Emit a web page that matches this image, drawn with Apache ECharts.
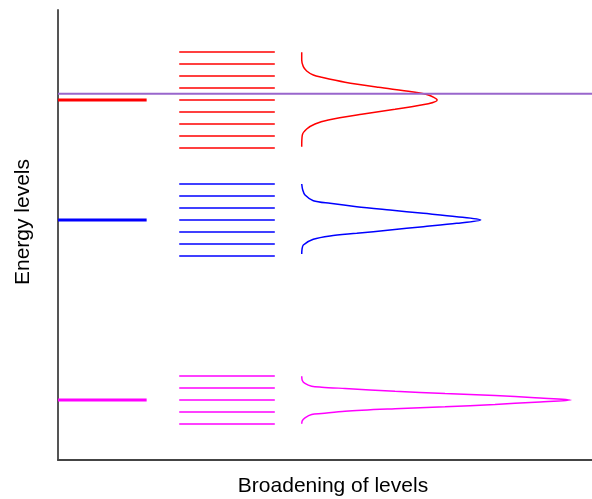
<!DOCTYPE html>
<html>
<head>
<meta charset="utf-8">
<script src="https://cdn.jsdelivr.net/npm/echarts@6/dist/echarts.min.js"></script>
<style>html,body{margin:0;padding:0;background:#fff}#c{width:592px;height:499px}</style>
</head>
<body>
<div id="c"></div>
<script>
// ---- data ----
const levelNames = ['upper', 'middle', 'lower'];
const levelColors = ['#ff0000', '#0000ff', '#ff00ff'];
const levelEnergies = [30, 20, 5];
const mainLineX = [0, 16.6];
const subLineX = [22.7, 40.6];
const upperSubLevels = [26, 27, 28, 29, 30, 31, 32, 33, 34];
const middleSubLevels = [17, 18, 19, 20, 21, 22, 23];
const lowerSubLevels = [3, 4, 5, 6, 7];
const upperCurveE = [33.98, 33.33, 32.78, 32.42, 32.08, 31.89, 31.48, 31.06, 30.69, 30.42, 30.0, 29.69, 29.23, 28.81, 28.33, 28.0, 27.58, 27.08, 26.11];
const upperCurveX = [45.64, 45.64, 45.94, 46.57, 47.81, 49.38, 53.75, 59.98, 66.24, 69.35, 71.0, 69.35, 63.11, 56.87, 50.62, 48.13, 46.57, 45.75, 45.64];
const middleCurveE = [23.0, 22.5, 22.08, 21.61, 21.39, 21.11, 20.83, 20.56, 20.28, 20.0, 19.72, 19.44, 19.17, 18.89, 18.67, 18.39, 17.92, 17.58, 17.17];
const middleCurveX = [45.64, 45.83, 46.26, 47.81, 50.94, 55.94, 62.17, 68.41, 74.66, 79.16, 74.66, 68.41, 62.17, 55.94, 50.94, 47.81, 45.94, 45.7, 45.64];
const lowerCurveE = [6.98, 6.63, 6.38, 6.15, 6.07, 5.96, 5.73, 5.54, 5.375, 5.18, 5.0, 4.82, 4.625, 4.43, 4.27, 4.07, 3.875, 3.79, 3.52, 3.29, 3.02];
const lowerCurveX = [45.64, 45.75, 46.25, 47.5, 49.38, 53.75, 63.11, 72.47, 81.84, 89.33, 96.07, 89.33, 81.84, 72.47, 63.11, 53.75, 49.38, 47.5, 46.25, 45.75, 45.64];
const referenceEnergy = 30.52;
const referenceX = [0, 100];
const xTitle = 'Broadening of levels';
const yTitle = 'Energy levels';

// ---- build ----
const subLevels = [upperSubLevels, middleSubLevels, lowerSubLevels];
const curvesE = [upperCurveE, middleCurveE, lowerCurveE];
const curvesX = [upperCurveX, middleCurveX, lowerCurveX];
const series = [];
function seg(name, x0, x1, e, color, width) {
  return {
    name: name, type: 'line', showSymbol: false, silent: true,
    lineStyle: { color: color, width: width }, itemStyle: { color: color },
    data: [[x0, e], [x1, e]]
  };
}
levelNames.forEach((n, i) => {
  series.push(seg(n + '-main', mainLineX[0], mainLineX[1], levelEnergies[i], levelColors[i], 3));
  subLevels[i].forEach((e, k) => series.push(seg(n + '-sub' + k, subLineX[0], subLineX[1], e, levelColors[i], 1.5)));
  series.push({
    name: n + '-curve', type: 'line', showSymbol: false, smooth: 0.3, silent: true,
    lineStyle: { color: levelColors[i], width: 1.5 }, itemStyle: { color: levelColors[i] },
    data: curvesE[i].map((e, k) => [curvesX[i][k], e])
  });
});
series.push(seg('reference', referenceX[0], referenceX[1], referenceEnergy, '#9966cc', 2));

const chart = echarts.init(document.getElementById('c'), null, { renderer: 'canvas' });
chart.setOption({
  animation: false,
  backgroundColor: '#ffffff',
  grid: { left: 58, right: 0, top: 10, bottom: 39 },
  xAxis: { type: 'value', min: 0, max: 100, axisLine: { show: true, lineStyle: { color: '#444', width: 2 } },
    axisTick: { show: false }, axisLabel: { show: false }, splitLine: { show: false } },
  yAxis: { type: 'value', min: 0, max: 37.5, axisLine: { show: true, lineStyle: { color: '#555', width: 2 } },
    axisTick: { show: false }, axisLabel: { show: false }, splitLine: { show: false } },
  graphic: [
    { type: 'text', style: { text: xTitle, font: '21px "Liberation Sans", Arial, sans-serif', fill: '#000', align: 'center', verticalAlign: 'middle' },
      x: 333, y: 486 },
    { type: 'text', style: { text: yTitle, font: '21px "Liberation Sans", Arial, sans-serif', fill: '#000', align: 'center', verticalAlign: 'middle' },
      x: 23, y: 222, rotation: Math.PI / 2 }
  ],
  series: series
});
</script>
</body>
</html>
